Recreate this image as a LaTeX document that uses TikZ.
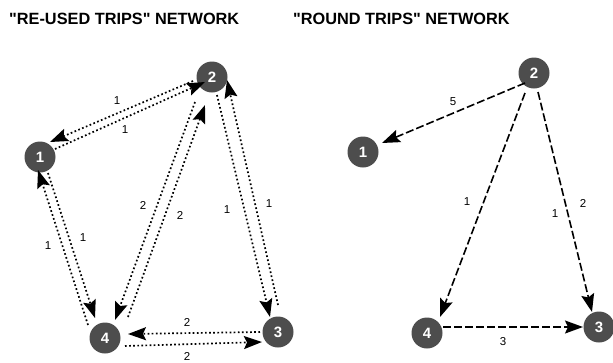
\documentclass[tikz,border=0pt]{standalone}
\usepackage{fontspec}
\setmainfont{Liberation Sans}[Ligatures=TeXOff]
\usetikzlibrary{arrows.meta}
\definecolor{nodegray}{HTML}{4D4D4D}
\begin{document}
\begin{tikzpicture}[x=1pt,y=-1pt,
  netnode/.style={circle,fill=nodegray,minimum size=31pt,inner sep=0pt,text=white,font=\bfseries\fontsize{15}{15}\selectfont},
  lbl/.style={inner sep=0pt,font=\fontsize{11.5}{11.5}\selectfont},
  ttl/.style={inner sep=0pt,anchor=base west,font=\bfseries\fontsize{16.3}{16.3}\selectfont},
  bigtip/.style={-{Stealth[length=18pt,width=13pt,inset=3pt]}},
  dotline/.style={bigtip,line width=1.7pt,dash pattern=on 1.7pt off 2.4pt},
  dashline/.style={bigtip,line width=1.6pt,dash pattern=on 8pt off 3pt}]
\useasboundingbox (0,0) rectangle (613,362);
% titles
\node[ttl] (t1) at (9,24) {"RE-USED TRIPS" NETWORK};
\node[ttl] (t2) at (293,24) {"ROUND TRIPS" NETWORK};
% left nodes
\node[netnode] (a1) at (40,157) {1};
\node[netnode] (a2) at (212,77) {2};
\node[netnode] (a3) at (278,332) {3};
\node[netnode] (a4) at (105,338) {4};
% right nodes
\node[netnode] (b1) at (363,152) {1};
\node[netnode] (b2) at (534,73) {2};
\node[netnode] (b3) at (599,327) {3};
\node[netnode] (b4) at (427,333) {4};
% left endpoints
\coordinate (p21s) at (193,81);  \coordinate (p21e) at (50,142);
\coordinate (p12s) at (55,149);  \coordinate (p12e) at (205,82);
\coordinate (p41s) at (88,325);  \coordinate (p41e) at (38,170);
\coordinate (p14s) at (48,173);  \coordinate (p14e) at (95,318);
\coordinate (p24s) at (195,102); \coordinate (p24e) at (115,320);
\coordinate (p42s) at (128,317); \coordinate (p42e) at (205,105);
\coordinate (p23s) at (217,95);  \coordinate (p23e) at (270,317);
\coordinate (p32s) at (278,305); \coordinate (p32e) at (227,80);
\coordinate (p34s) at (260,332); \coordinate (p34e) at (128,334);
\coordinate (p43s) at (125,346); \coordinate (p43e) at (262,342);
% right endpoints
\coordinate (q21s) at (525,83);  \coordinate (q21e) at (382,143);
\coordinate (q24s) at (525,93);  \coordinate (q24e) at (440,317);
\coordinate (q23s) at (538,92);  \coordinate (q23e) at (592,312);
\coordinate (q43s) at (443,327); \coordinate (q43e) at (583,327);
% left connectors
\draw[dotline] (p21s) -- (p21e);
\draw[dotline] (p12s) -- (p12e);
\draw[dotline] (p41s) -- (p41e);
\draw[dotline] (p14s) -- (p14e);
\draw[dotline] (p24s) -- (p24e);
\draw[dotline] (p42s) -- (p42e);
\draw[dotline] (p23s) -- (p23e);
\draw[dotline] (p32s) -- (p32e);
\draw[dotline] (p34s) -- (p34e);
\draw[dotline] (p43s) -- (p43e);
% right connectors
\draw[dashline] (q21s) -- (q21e);
\draw[dashline] (q24s) -- (q24e);
\draw[dashline] (q23s) -- (q23e);
\draw[dashline] (q43s) -- (q43e);
% left labels
\node[lbl] (l1) at (117,101) {1};
\node[lbl] (l2) at (125,130) {1};
\node[lbl] (l3) at (48,246) {1};
\node[lbl] (l4) at (83,238) {1};
\node[lbl] (l5) at (143,205) {2};
\node[lbl] (l6) at (180,215) {2};
\node[lbl] (l7) at (227,210) {1};
\node[lbl] (l8) at (269,204) {1};
\node[lbl] (l9) at (187,322) {2};
\node[lbl] (l10) at (187,356) {2};
% right labels
\node[lbl] (r1) at (453,102) {5};
\node[lbl] (r2) at (467,202) {1};
\node[lbl] (r3) at (555,214) {1};
\node[lbl] (r4) at (583,203) {2};
\node[lbl] (r5) at (503,342) {3};
\end{tikzpicture}
\end{document}
